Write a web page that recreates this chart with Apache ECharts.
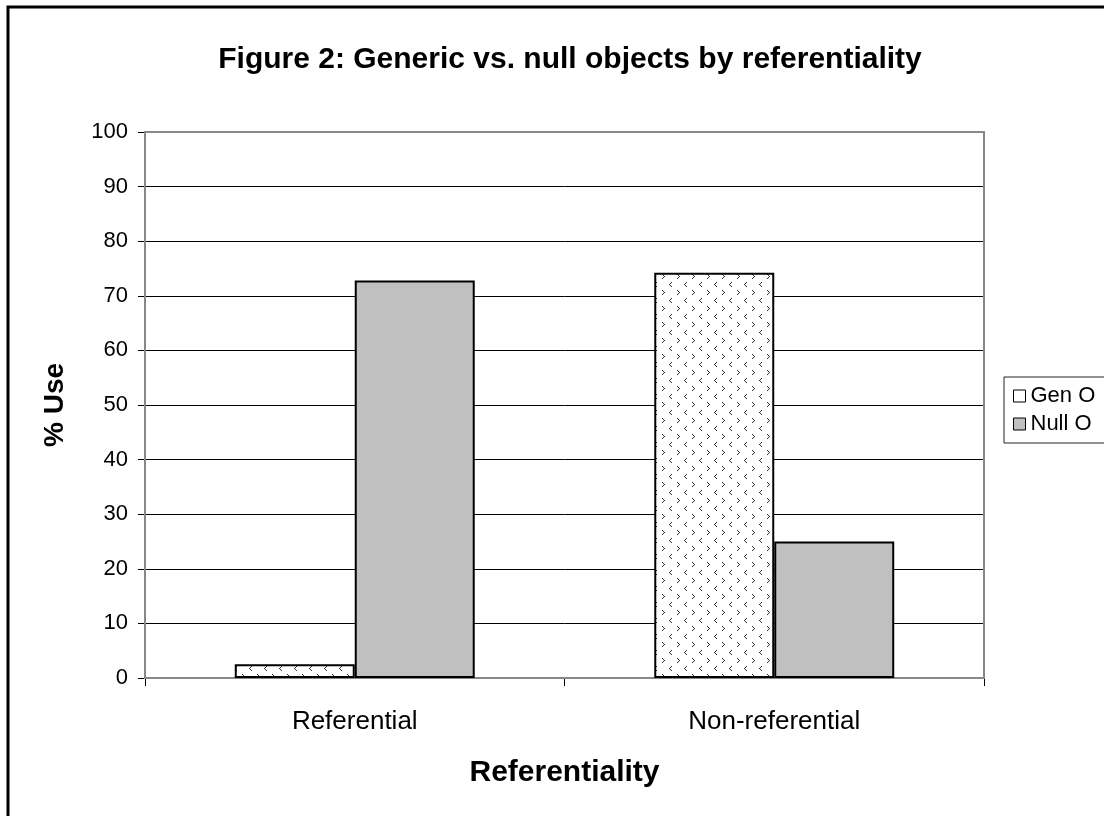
<!DOCTYPE html>
<html><head><meta charset="utf-8">
<script src="https://cdn.jsdelivr.net/npm/echarts@6/dist/echarts.min.js"></script>
<style>html,body{margin:0;padding:0;background:#fff}#c{width:1104px;height:816px}</style>
</head><body><div id="c"></div>
<script>
const categories = ['Referential', 'Non-referential'];
const genO = [2.5, 74.2];
const nullO = [72.8, 25.0];
const yTicks = [0, 10, 20, 30, 40, 50, 60, 70, 80, 90, 100];

// dotted chevron pattern for Gen O
const tile = document.createElement('canvas');
tile.width = 15; tile.height = 16;
const tc = tile.getContext('2d');
tc.fillStyle = '#fff'; tc.fillRect(0, 0, 15, 16);
tc.fillStyle = '#333';
function dot(x, y){ tc.fillRect(x, y, 1, 1); }
[[2,2],[3,3],[4,4],[3,5],[2,6]].forEach(p=>dot(p[0],p[1]));
[[11,10],[10,11],[9,12],[10,13],[11,14]].forEach(p=>dot(p[0],p[1]));

const font = '"Liberation Sans", Arial, sans-serif';
const chart = echarts.init(document.getElementById('c'));
chart.setOption({
  animation: false,
  backgroundColor: '#fff',
  title: {
    text: 'Figure 2: Generic vs. null objects by referentiality',
    left: 565, top: 40, textAlign: 'center',
    textStyle: { fontFamily: font, fontSize: 30, fontWeight: 'bold', color: '#000' }
  },
  graphic: [{
    type: 'rect', z: 100,
    shape: { x: 8, y: 7, width: 1300, height: 1000 },
    style: { fill: 'none', stroke: '#000', lineWidth: 3 }
  }, {
    type: 'rect', z: 1, silent: true,
    shape: { x: 145, y: 132, width: 839, height: 546 },
    style: { fill: 'none', stroke: '#888', lineWidth: 2 }
  }],
  legend: {
    orient: 'vertical', left: 1004, top: 377,
    backgroundColor: '#fff', borderColor: '#222', borderWidth: 1,
    padding: [8, 20, 8, 9], itemGap: 6,
    itemWidth: 12, itemHeight: 12,
    textStyle: { fontFamily: font, fontSize: 22, color: '#000' },
    data: [
      { name: 'Gen O', icon: 'rect', itemStyle: { color: '#fff', borderColor: '#000', borderWidth: 1 } },
      { name: 'Null O', icon: 'rect', itemStyle: { color: '#c0c0c0', borderColor: '#000', borderWidth: 1 } }
    ]
  },
  grid: { left: 145, top: 132, right: 120, bottom: 138 },
  xAxis: {
    type: 'category', data: categories,
    name: 'Referentiality', nameLocation: 'middle', nameGap: 80,
    nameTextStyle: { fontFamily: font, fontSize: 30, fontWeight: 'bold', color: '#000' },
    axisLine: { lineStyle: { color: '#000', width: 1.5 } },
    axisTick: { show: true, length: 8, lineStyle: { color: '#000' } },
    axisLabel: { fontFamily: font, fontSize: 26, color: '#000', margin: 31 }
  },
  yAxis: {
    type: 'value', min: 0, max: 100, interval: 10,
    name: '% Use', nameLocation: 'middle', nameGap: 76, nameRotate: 90,
    nameTextStyle: { fontFamily: font, fontSize: 28, fontWeight: 'bold', color: '#000' },
    axisLine: { show: true, lineStyle: { color: '#000', width: 1.5 } },
    axisTick: { show: true, length: 7, lineStyle: { color: '#000' } },
    axisLabel: { fontFamily: font, fontSize: 22, color: '#000', margin: 17,
      formatter: v => yTicks.includes(v) ? String(v) : '' },
    splitLine: { lineStyle: { color: '#000', width: 1 } }
  },
  series: [{
    name: 'Gen O', type: 'bar', data: genO,
    barGap: '0%', barCategoryGap: '42.8%',
    itemStyle: { color: { image: tile, repeat: 'repeat' }, borderColor: '#000', borderWidth: 2 }
  }, {
    name: 'Null O', type: 'bar', data: nullO,
    itemStyle: { color: '#c0c0c0', borderColor: '#000', borderWidth: 2 }
  }]
});
</script></body></html>
